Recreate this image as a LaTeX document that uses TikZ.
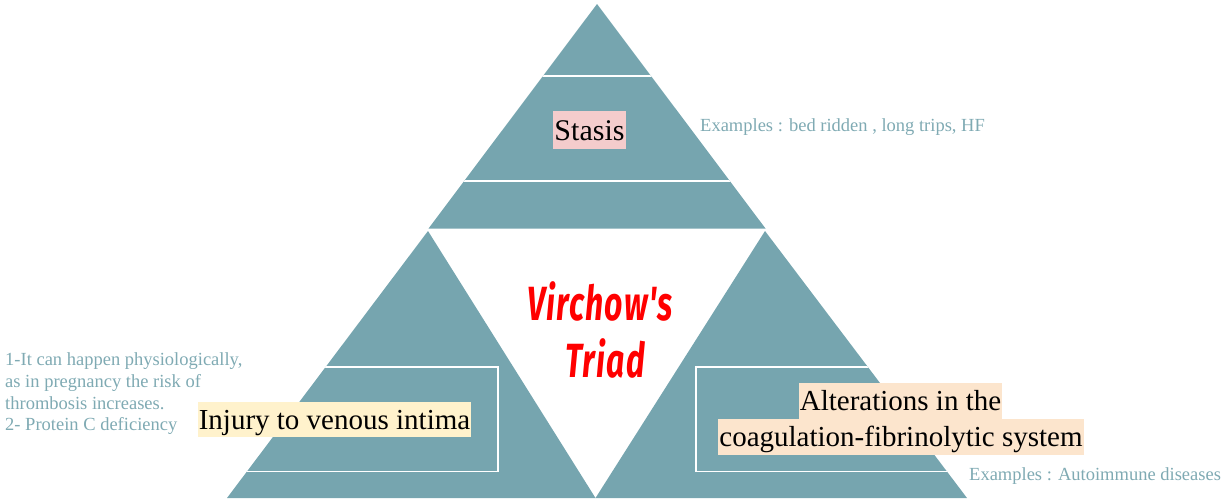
\documentclass[tikz,border=0pt]{standalone}
\usepackage{fontspec}
\setmainfont{Liberation Serif}
\newfontfamily\handfont[LetterSpace=4]{Fira Sans}
\usepackage{graphicx}
\definecolor{tealA}{HTML}{76A5AF}
\definecolor{noteC}{HTML}{7FAAB3}
\definecolor{pinkA}{HTML}{F4CCCC}
\definecolor{yellowA}{HTML}{FFF2CC}
\definecolor{orangeA}{HTML}{FCE5CD}
\definecolor{redA}{HTML}{FF0000}
\tikzset{
  piece/.style={fill=tealA, draw=none},
  sep/.style={draw=white, line width=2pt},
  label/.style={inner sep=0pt, font=\fontsize{29}{35}\selectfont, text=black},
  note/.style={inner sep=0pt, text=noteC, font=\fontsize{18.5}{21.8}\selectfont, align=left},
  hand/.style={inner sep=0pt, text=redA, font=\handfont\bfseries\itshape\fontsize{32}{40}\selectfont}
}
\begin{document}
\begin{tikzpicture}[x=1pt,y=-1pt]
\useasboundingbox (0,0) rectangle (1224,501);
% corners
\coordinate (apex) at (597,4);
\coordinate (tl) at (428.5,228.5);
\coordinate (tr) at (765.5,228.5);
\coordinate (la) at (428,231);
\coordinate (lb) at (227,498);
\coordinate (mid) at (595.5,498);
\coordinate (ra) at (765,231);
\coordinate (rb) at (967,498);
% top piece
\fill[piece] (apex) -- (tl) -- (tr) -- cycle;
\begin{scope}
  \clip (apex) -- (tl) -- (tr) -- cycle;
  \draw[sep] (400,76) -- (800,76);
  \draw[sep] (400,181) -- (800,181);
\end{scope}
% left piece
\fill[piece] (la) -- (lb) -- (mid) -- cycle;
\begin{scope}
  \clip (la) -- (lb) -- (mid) -- cycle;
  \draw[sep, line width=1.6pt] (150,367) rectangle (498,471.5);
\end{scope}
% right piece
\fill[piece] (ra) -- (mid) -- (rb) -- cycle;
\begin{scope}
  \clip (ra) -- (mid) -- (rb) -- cycle;
  \draw[sep, line width=1.6pt] (696,367) rectangle (1100,471.5);
\end{scope}
% labels
\node[label, fill=pinkA, text height=30pt, text depth=8pt, font=\fontsize{30}{36}\selectfont, inner xsep=1pt] (stasis) at (589.5,129.5) {Stasis};
\node[label, fill=yellowA, text height=27pt, text depth=8pt, inner xsep=1pt] (injury) at (334.5,419.5) {Injury to venous intima};
\node[label, fill=orangeA, text height=27pt, text depth=9pt, inner xsep=1pt] (alt1) at (900.5,401) {Alterations in the};
\node[label, fill=orangeA, text height=27pt, text depth=9pt, inner xsep=1pt] (alt2) at (901,437) {coagulation-fibrinolytic system};
% notes
\node[note, anchor=base west] (ex1) at (700,131) {Examples : bed ridden , long trips, HF};
\node[note, anchor=north west] (ex2) at (5,352.5) {1-It can happen physiologically,\\as in pregnancy the risk of\\thrombosis increases.\\2- Protein C deficiency};
\node[note, anchor=base west] (ex3) at (969,480) {Examples : Autoimmune diseases};
% title
\node[hand, anchor=base] (v1) at (600,320) {\scalebox{1}[1.5]{Virchow's}};
\node[hand, anchor=base] (v2) at (605,377) {\scalebox{1}[1.5]{Triad}};
\end{tikzpicture}
\end{document}
